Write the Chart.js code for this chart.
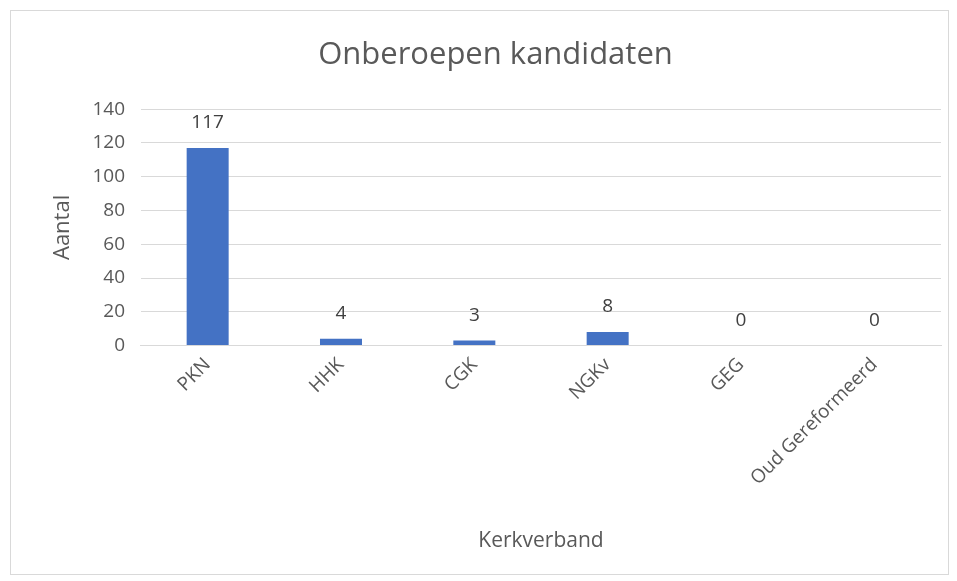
<!DOCTYPE html>
<html>
<head>
<meta charset="utf-8">
<script src="https://cdn.jsdelivr.net/npm/chart.js@4"></script>
<style>
    html, body { margin: 0; padding: 0; background: #ffffff; }
    #wrap {
        position: absolute; left: 10px; top: 10px;
        width: 937px; height: 563px;
        border: 1px solid #d9d9d9; background: #ffffff;
    }
</style>
</head>
<body>
<div id="wrap"><canvas id="kandidatenChart" width="937" height="563"></canvas></div>
<script>
// Chart data
const categories = ['PKN', 'HHK', 'CGK', 'NGKv', 'GEG', 'Oud Gereformeerd'];
const aantallen = [117, 4, 3, 8, 0, 0];
const yTicks = [0, 20, 40, 60, 80, 100, 120, 140];

const textColor = '#595959';
const fontFamily = "'Open Sans', 'DejaVu Sans', sans-serif";

// Draw value above each bar (like Excel data labels)
const valueLabels = {
    id: 'valueLabels',
    afterDatasetsDraw(chart) {
        const ctx = chart.ctx;
        const meta = chart.getDatasetMeta(0);
        ctx.save();
        ctx.fillStyle = '#404040';
        ctx.font = '19px ' + fontFamily;
        ctx.textAlign = 'center';
        ctx.textBaseline = 'middle';
        meta.data.forEach(function(bar, i) {
            ctx.fillText(String(aantallen[i]), bar.x, bar.y - 25);
        });
        ctx.restore();
    }
};

new Chart(document.getElementById('kandidatenChart').getContext('2d'), {
    type: 'bar',
    data: {
        labels: categories,
        datasets: [{
            label: 'Aantal',
            data: aantallen,
            backgroundColor: '#4472c4',
            categoryPercentage: 1,
            barPercentage: 0.315
        }]
    },
    options: {
        responsive: false,
        animation: false,
        layout: { padding: { left: 39, right: 7, top: 0, bottom: 20 } },
        plugins: {
            legend: { display: false },
            tooltip: { enabled: false },
            title: {
                display: true,
                text: 'Onberoepen kandidaten',
                color: textColor,
                font: { family: fontFamily, size: 31, weight: 'normal' },
                padding: { top: 26, bottom: 35 }
            }
        },
        scales: {
            x: {
                grid: { display: false, drawTicks: false },
                border: { color: '#d9d9d9', width: 1 },
                ticks: {
                    color: textColor,
                    font: { family: fontFamily, size: 19 },
                    maxRotation: 45,
                    minRotation: 45,
                    padding: 8
                },
                title: {
                    display: true,
                    text: 'Kerkverband',
                    color: textColor,
                    font: { family: fontFamily, size: 21 },
                    padding: { top: 31, bottom: 0 }
                }
            },
            y: {
                min: 0,
                max: 140,
                afterBuildTicks(scale) {
                    scale.ticks = yTicks.map(v => ({ value: v }));
                },
                grid: { color: '#d9d9d9', drawTicks: false },
                border: { display: false },
                ticks: {
                    color: textColor,
                    font: { family: fontFamily, size: 19 },
                    padding: 16
                },
                title: {
                    display: true,
                    text: 'Aantal',
                    color: textColor,
                    font: { family: fontFamily, size: 22 },
                    padding: { top: 0, bottom: 0 }
                }
            }
        }
    },
    plugins: [valueLabels]
});
</script>
</body>
</html>
